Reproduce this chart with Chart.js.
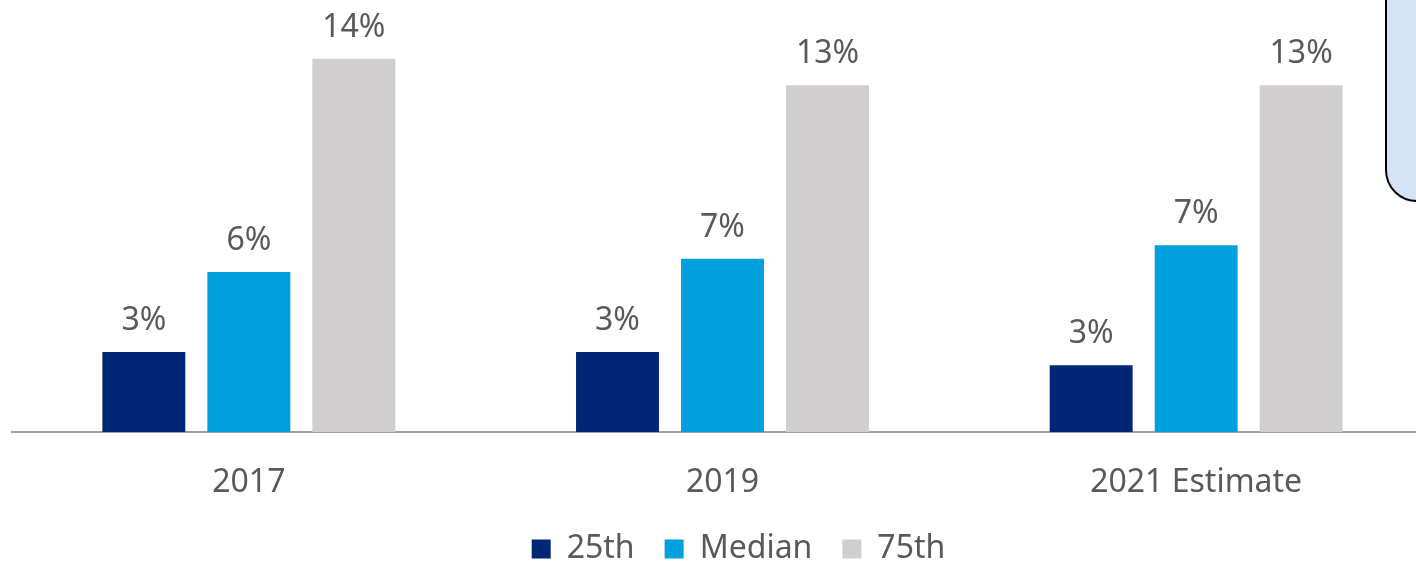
<!DOCTYPE html>
<html lang="en">
<head>
    <meta charset="UTF-8">
    <title>Percentiles by year</title>
    <style>
        html, body {
            height: 100%;
            margin: 0;
            padding: 0;
            overflow: hidden;
            background: #fff;
        }
        .chart-wrap {
            position: absolute;
            left: 0;
            top: 0;
            width: 1476px;
            height: 575px;
        }
        /* callout box sitting at the top right, cut by the window edge */
        .note-box {
            position: absolute;
            left: 1385px;
            top: -40px;
            width: 120px;
            height: 238px;
            background: #d5e3f6;
            border: 2px solid #000;
            border-radius: 32px;
        }
    </style>
    <script src="https://cdn.jsdelivr.net/npm/chart.js"></script>
</head>
<body>
    <div class="chart-wrap">
        <canvas id="pct-chart" width="1476" height="575"></canvas>
    </div>
    <div class="note-box"></div>

    <script>
        const years = ['2017', '2019', '2021 Estimate'];
        const p25 = [3.0, 3.0, 2.5];
        const median = [6.0, 6.5, 7.0];
        const p75 = [14.0, 13.0, 13.0];

        const textColor = '#595959';
        const fontFamily = "'Noto Sans', 'Open Sans', sans-serif";

        // writes the rounded percentage above each bar
        const barLabels = {
            id: 'barLabels',
            afterDatasetsDraw(chart) {
                const ctx = chart.ctx;
                ctx.save();
                ctx.font = '32px ' + fontFamily;
                ctx.fillStyle = textColor;
                ctx.textAlign = 'center';
                ctx.textBaseline = 'alphabetic';
                chart.data.datasets.forEach((ds, i) => {
                    chart.getDatasetMeta(i).data.forEach((bar, j) => {
                        ctx.fillText(Math.round(ds.data[j]) + '%', bar.x, bar.y - 22);
                    });
                });
                ctx.restore();
            }
        };

        // nudge the legend a little to the right of the plot centre
        const legendShift = {
            id: 'legendShift',
            afterLayout(chart) {
                if (chart.legend) {
                    chart.legend.left += 16;
                    chart.legend.right += 16;
                }
            }
        };

        const ctx = document.getElementById('pct-chart').getContext('2d');
        const chart = new Chart(ctx, {
            type: 'bar',
            data: {
                labels: years,
                datasets: [
                    { label: '25th', data: p25, backgroundColor: '#002776' },
                    { label: 'Median', data: median, backgroundColor: '#00a0df' },
                    { label: '75th', data: p75, backgroundColor: '#d0cecf' }
                ]
            },
            options: {
                responsive: false,
                animation: false,
                categoryPercentage: 0.665,
                barPercentage: 0.79,
                layout: {
                    padding: { left: 12, right: 43, top: 0, bottom: 0 }
                },
                plugins: {
                    legend: {
                        position: 'bottom',
                        labels: {
                            color: textColor,
                            font: { size: 32, family: fontFamily },
                            boxWidth: 19,
                            boxHeight: 19,
                            padding: 30
                        }
                    },
                    tooltip: { enabled: false }
                },
                scales: {
                    x: {
                        grid: { display: false, drawTicks: false },
                        border: { color: '#a0a0a0', width: 2 },
                        ticks: {
                            color: textColor,
                            font: { size: 32, family: fontFamily },
                            padding: 32
                        },
                        // keep the category band tight so the bars get the height
                        afterFit(scale) {
                            scale.height = 71;
                        }
                    },
                    y: {
                        display: false,
                        min: 0,
                        max: 16.2
                    }
                }
            },
            plugins: [barLabels, legendShift]
        });
    </script>
</body>
</html>
